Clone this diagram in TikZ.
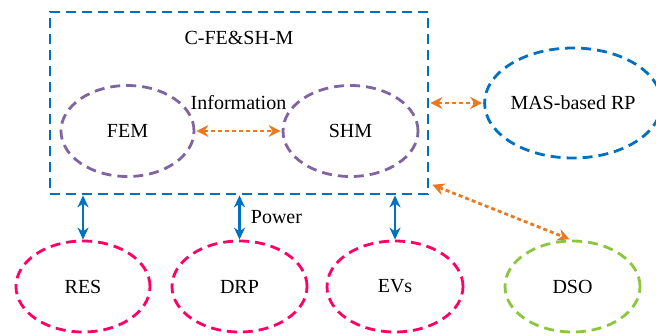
\documentclass[tikz,border=0pt]{standalone}
\usepackage{fontspec}
\setmainfont{Liberation Serif}
\usetikzlibrary{shapes.geometric,arrows.meta}
\definecolor{cblue}{HTML}{0070C0}
\definecolor{cpurple}{HTML}{8064A2}
\definecolor{corange}{HTML}{E97A22}
\definecolor{cpink}{HTML}{FF0066}
\definecolor{cgreen}{HTML}{8CC63F}
\tikzset{
  ell/.style={ellipse, draw, line width=2.8pt, dash pattern=on 10pt off 6pt, inner sep=0pt, font=\fontsize{20}{22}\selectfont},
  lbl/.style={inner sep=0pt, font=\fontsize{20}{22}\selectfont},
  infoarrow/.style={draw=corange, line width=2.8pt, dash pattern=on 4pt off 3pt, {Stealth[length=12pt,width=12pt,fill=corange]}-{Stealth[length=12pt,width=12pt,fill=corange]}, shorten <=1pt, shorten >=1pt},
  powarrow/.style={draw=cblue, line width=2.8pt, {Stealth[length=12pt,width=11pt]}-{Stealth[length=12pt,width=11pt]}}
}
\begin{document}
\begin{tikzpicture}[x=1pt,y=-1pt]
\useasboundingbox (0,0) rectangle (656,335);
\node[draw=cblue, line width=2.8pt, dash pattern=on 10pt off 6pt, minimum width=378pt, minimum height=182pt, inner sep=0pt] (box) at (239,103) {};
\node[lbl] (title) at (239,38) {C-FE\&SH-M};
\node[ell, draw=cpurple, minimum width=133pt, minimum height=91pt] (fem) at (127.5,131) {FEM};
\node[ell, draw=cpurple, minimum width=135pt, minimum height=91pt] (shm) at (350.5,131) {SHM};
\node[ell, draw=cblue, minimum width=160pt, minimum height=110pt] (mas) at (573,103) {MAS-based RP};
\node[ell, draw=cpink, minimum width=134pt, minimum height=91pt] (res) at (83,286.5) {RES};
\node[ell, draw=cpink, minimum width=135pt, minimum height=91pt] (drp) at (239.5,286.5) {DRP};
\node[ell, draw=cpink, minimum width=136pt, minimum height=91pt] (evs) at (395,286.5) {EVs};
\node[ell, draw=cgreen, minimum width=135pt, minimum height=91pt] (dso) at (572.5,286.5) {DSO};
\draw[infoarrow] (fem.east) -- node[lbl, above=20pt] (info) {Information} (shm.west);
\draw[infoarrow] (box.east) -- (mas.west);
\coordinate (dsoin) at ([xshift=2pt,yshift=11pt]box.south east);
\draw[infoarrow] (dsoin) -- ([xshift=-2pt]dso.north);
\draw[powarrow] (box.south -| res.north) -- (res.north);
\draw[powarrow] (box.south -| drp.north) -- node[lbl, right=10pt] (power) {Power} (drp.north);
\draw[powarrow] (box.south -| evs.north) -- (evs.north);
\end{tikzpicture}
\end{document}
